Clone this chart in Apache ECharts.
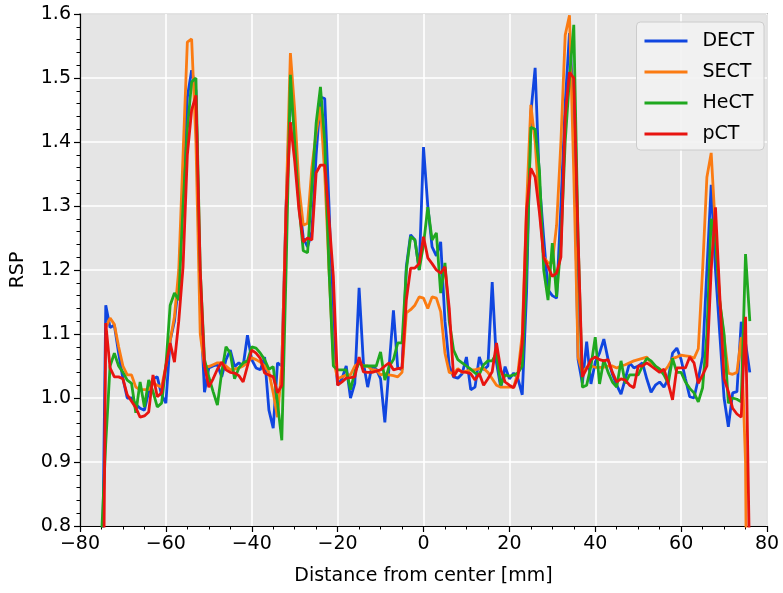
<!DOCTYPE html>
<html>
<head>
<meta charset="utf-8">
<script src="https://cdn.jsdelivr.net/npm/echarts@6/dist/echarts.min.js"></script>
<style>html,body{margin:0;padding:0;background:#fff}#c{width:783px;height:593px}</style>
</head>
<body>
<div id="c"></div>
<script>
// Distance from center [mm], -76 .. 76 step 1
var distance = [];
for (var d = -76; d <= 76; d++) distance.push(d);

var seriesNames = ['DECT', 'SECT', 'HeCT', 'pCT'];

var dect = [0.0, 0.6, 1.145, 1.11, 1.114, 1.07, 1.03, 1.0, 1.0, 0.99, 0.984, 0.981, 1.01, 1.03, 1.033, 1.005, 0.992, 1.09, 1.12, 1.18, 1.33, 1.47, 1.512, 1.48, 1.15, 1.009, 1.047, 1.05, 1.052, 1.033, 1.06, 1.075, 1.049, 1.055, 1.05, 1.098, 1.06, 1.047, 1.044, 1.064, 0.981, 0.953, 1.055, 1.05, 1.3, 1.48, 1.42, 1.31, 1.25, 1.236, 1.26, 1.38, 1.47, 1.468, 1.3, 1.1, 1.02, 1.03, 1.05, 1.0, 1.023, 1.172, 1.055, 1.017, 1.05, 1.045, 1.03, 0.962, 1.05, 1.137, 1.047, 1.044, 1.205, 1.255, 1.247, 1.2, 1.392, 1.3, 1.236, 1.222, 1.244, 1.12, 1.05, 1.033, 1.031, 1.038, 1.064, 1.013, 1.017, 1.064, 1.044, 1.05, 1.181, 1.055, 1.016, 1.049, 1.03, 1.039, 1.03, 1.005, 1.164, 1.445, 1.516, 1.336, 1.25, 1.169, 1.16, 1.156, 1.3, 1.46, 1.57, 1.45, 1.06, 1.023, 1.088, 1.022, 1.056, 1.07, 1.092, 1.06, 1.037, 1.02, 1.006, 1.03, 1.055, 1.047, 1.05, 1.055, 1.03, 1.009, 1.02, 1.025, 1.017, 1.03, 1.07, 1.078, 1.06, 1.03, 1.002, 1.0, 1.03, 1.064, 1.2, 1.333, 1.2, 1.1, 1.0, 0.955, 1.008, 1.01, 1.119, 1.086, 1.04, null];

var sect = [null, null, 1.11, 1.125, 1.115, 1.08, 1.05, 1.036, 1.036, 1.017, 1.013, 1.013, 1.013, 1.023, 1.02, 1.017, 1.05, 1.09, 1.127, 1.2, 1.38, 1.556, 1.561, 1.4, 1.1, 1.05, 1.049, 1.052, 1.055, 1.055, 1.05, 1.044, 1.045, 1.047, 1.05, 1.055, 1.063, 1.06, 1.056, 1.05, 1.04, 1.008, 0.97, 1.05, 1.3, 1.539, 1.45, 1.33, 1.27, 1.273, 1.36, 1.414, 1.455, 1.35, 1.2, 1.06, 1.03, 1.033, 1.036, 1.036, 1.05, 1.055, 1.05, 1.05, 1.044, 1.044, 1.036, 1.038, 1.036, 1.035, 1.033, 1.04, 1.133, 1.138, 1.145, 1.158, 1.156, 1.14, 1.158, 1.156, 1.135, 1.07, 1.04, 1.038, 1.046, 1.04, 1.042, 1.044, 1.044, 1.046, 1.046, 1.04, 1.03, 1.02, 1.017, 1.017, 1.017, 1.017, 1.04, 1.1, 1.3, 1.458, 1.4, 1.3, 1.22, 1.211, 1.211, 1.27, 1.4, 1.567, 1.598, 1.35, 1.064, 1.04, 1.048, 1.05, 1.048, 1.048, 1.048, 1.05, 1.05, 1.047, 1.05, 1.052, 1.055, 1.058, 1.06, 1.062, 1.064, 1.055, 1.05, 1.045, 1.041, 1.05, 1.062, 1.064, 1.067, 1.066, 1.065, 1.062, 1.077, 1.2, 1.345, 1.383, 1.263, 1.15, 1.095, 1.039, 1.037, 1.04, 1.095, 0.9, 0.0];

var hect = [null, 0.78, 0.93, 1.05, 1.07, 1.05, 1.04, 1.028, 1.023, 0.977, 1.025, 0.986, 1.028, 1.01, 0.986, 0.992, 1.05, 1.145, 1.164, 1.153, 1.3, 1.42, 1.494, 1.5, 1.2, 1.06, 1.033, 1.01, 0.989, 1.04, 1.08, 1.07, 1.03, 1.047, 1.055, 1.058, 1.08, 1.078, 1.07, 1.06, 1.045, 1.049, 0.992, 0.934, 1.2, 1.505, 1.4, 1.3, 1.23, 1.227, 1.33, 1.43, 1.486, 1.4, 1.2, 1.05, 1.044, 1.044, 1.044, 1.013, 1.04, 1.055, 1.05, 1.05, 1.05, 1.05, 1.072, 1.028, 1.049, 1.06, 1.086, 1.086, 1.2, 1.252, 1.247, 1.2, 1.24, 1.298, 1.247, 1.258, 1.164, 1.211, 1.12, 1.075, 1.06, 1.055, 1.05, 1.045, 1.039, 1.037, 1.052, 1.058, 1.058, 1.07, 1.02, 1.036, 1.034, 1.036, 1.039, 1.05, 1.2, 1.423, 1.42, 1.356, 1.2, 1.153, 1.242, 1.158, 1.24, 1.4, 1.5, 1.583, 1.25, 1.017, 1.02, 1.05, 1.095, 1.022, 1.06, 1.04, 1.025, 1.017, 1.058, 1.023, 1.036, 1.036, 1.036, 1.05, 1.062, 1.058, 1.05, 1.045, 1.036, 1.023, 1.062, 1.04, 1.04, 1.025, 1.015, 1.008, 0.994, 1.016, 1.1, 1.28, 1.25, 1.15, 1.1, 0.992, 1.0, 0.998, 0.994, 1.225, 1.12];

var pct = [null, 0.3, 1.117, 1.047, 1.033, 1.033, 1.03, 1.005, 0.995, 0.985, 0.97, 0.972, 0.978, 1.036, 1.002, 1.008, 1.05, 1.086, 1.056, 1.12, 1.205, 1.38, 1.45, 1.473, 1.2, 1.05, 1.017, 1.03, 1.045, 1.056, 1.044, 1.04, 1.039, 1.035, 1.025, 1.05, 1.075, 1.07, 1.062, 1.039, 1.036, 1.033, 1.008, 1.02, 1.294, 1.431, 1.37, 1.294, 1.244, 1.25, 1.247, 1.352, 1.364, 1.364, 1.28, 1.19, 1.02, 1.025, 1.031, 1.032, 1.033, 1.064, 1.041, 1.04, 1.04, 1.042, 1.044, 1.05, 1.055, 1.044, 1.046, 1.047, 1.153, 1.203, 1.203, 1.21, 1.252, 1.219, 1.21, 1.2, 1.195, 1.205, 1.14, 1.033, 1.044, 1.041, 1.04, 1.038, 1.028, 1.038, 1.02, 1.03, 1.041, 1.086, 1.044, 1.025, 1.02, 1.016, 1.033, 1.086, 1.294, 1.359, 1.345, 1.29, 1.22, 1.205, 1.19, 1.195, 1.22, 1.44, 1.509, 1.5, 1.25, 1.033, 1.046, 1.06, 1.064, 1.06, 1.058, 1.06, 1.04, 1.025, 1.03, 1.028, 1.02, 1.016, 1.05, 1.05, 1.055, 1.05, 1.045, 1.04, 1.045, 1.023, 0.997, 1.047, 1.047, 1.047, 1.064, 1.055, 1.023, 1.036, 1.05, 1.2, 1.298, 1.16, 1.03, 1.01, 0.984, 0.975, 0.97, 1.127, 0.72];

var xTicks = [-80, -60, -40, -20, 0, 20, 40, 60, 80];
var yTicks = [0.8, 0.9, 1.0, 1.1, 1.2, 1.3, 1.4, 1.5, 1.6];

var colors = ['#1046e0', '#fb7b12', '#1fa81f', '#e81410'];
var allValues = [dect, sect, hect, pct];

function pairs(vals) {
  return distance.map(function (x, i) { return [x, vals[i]]; });
}

var chart = echarts.init(document.getElementById('c'), null, {renderer: 'canvas'});
var font = 'DejaVu Sans';
chart.setOption({
  animation: false,
  backgroundColor: '#ffffff',
  grid: {
    left: 80, right: 16, top: 14, bottom: 67,
    outerBoundsMode: 'none', containLabel: false,
    show: true, backgroundColor: '#e5e5e5', borderColor: '#222', borderWidth: 1.2
  },
  legend: {
    orient: 'vertical', right: 19, top: 22,
    data: seriesNames.map(function (n) { return {name: n, icon: 'rect'}; }),
    itemWidth: 43, itemHeight: 3, itemGap: 9,
    padding: [8, 10, 5, 8],
    backgroundColor: 'rgba(242,242,242,0.92)', borderColor: '#cccccc', borderWidth: 1, borderRadius: 4,
    textStyle: {fontFamily: font, fontSize: 19, color: '#000', padding: [0, 0, 0, 10], lineHeight: 22}
  },
  xAxis: {
    type: 'value', min: xTicks[0], max: xTicks[xTicks.length - 1], interval: 20,
    name: 'Distance from center [mm]', nameLocation: 'middle', nameGap: 41,
    nameTextStyle: {fontFamily: font, fontSize: 19, color: '#000'},
    axisLine: {show: true, onZero: false, lineStyle: {color: '#000', width: 1.2}},
    axisTick: {show: true, inside: false, length: 6, lineStyle: {color: '#000', width: 1.2}},
    minorTick: {show: true, splitNumber: 4, length: 3.5, lineStyle: {color: '#000', width: 1}},
    axisLabel: {fontFamily: font, fontSize: 19, color: '#000', margin: 9,
      formatter: function (v) { return String(v).replace('-', '\u2212'); }},
    splitLine: {show: true, lineStyle: {color: '#ffffff', width: 1.6}}
  },
  yAxis: {
    type: 'value', min: yTicks[0], max: yTicks[yTicks.length - 1], interval: 0.1,
    name: 'RSP', nameLocation: 'middle', nameGap: 52,
    nameTextStyle: {fontFamily: font, fontSize: 19, color: '#000'},
    axisLine: {show: true, onZero: false, lineStyle: {color: '#000', width: 1.2}},
    axisTick: {show: true, inside: false, length: 6, lineStyle: {color: '#000', width: 1.2}},
    minorTick: {show: true, splitNumber: 5, length: 3.5, lineStyle: {color: '#000', width: 1}},
    axisLabel: {fontFamily: font, fontSize: 19, color: '#000', margin: 9,
      formatter: function (v) { return v.toFixed(1); }},
    splitLine: {show: true, lineStyle: {color: '#ffffff', width: 1.6}}
  },
  series: seriesNames.map(function (n, i) {
    return {
      name: n, type: 'line', data: pairs(allValues[i]),
      symbol: 'none', showSymbol: false, clip: true, connectNulls: false,
      lineStyle: {color: colors[i], width: 2.8},
      itemStyle: {color: colors[i]},
      z: 2 + i
    };
  })
});
</script>
</body>
</html>
